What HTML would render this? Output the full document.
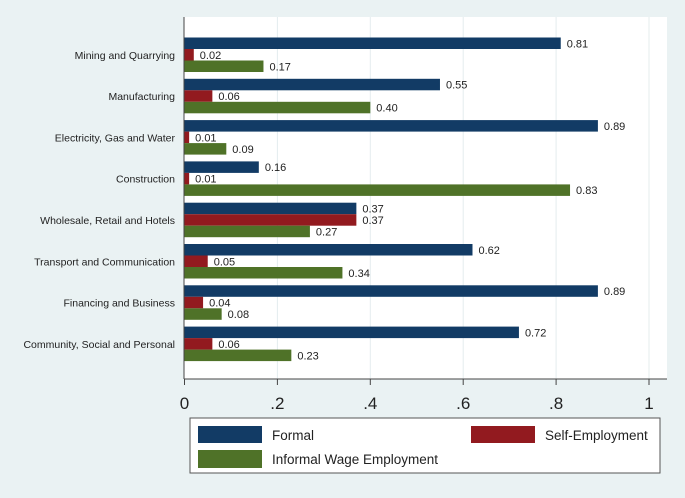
<!DOCTYPE html>
<html><head><meta charset="utf-8"><style>
body{margin:0;background:#eaf2f3;font-family:"Liberation Sans",Arial,sans-serif;}
svg{display:block}
</style></head><body>
<svg width="685" height="498">
<rect x="0" y="0" width="685" height="498" fill="#eaf2f3"/>
<rect x="184" y="17" width="483" height="362" fill="#ffffff"/>
<g id="grid"></g><g id="bars"></g><g id="axis"></g>
<g>
<rect x="190" y="418" width="470" height="55" fill="#fff" stroke="#555" stroke-width="1"/>
<rect x="198" y="426" width="64" height="17" fill="#123b65"/>
<text x="272" y="440" font-size="13.5" fill="#222">Formal</text>
<rect x="471" y="426" width="64" height="17" fill="#921a1f"/>
<text x="545" y="440" font-size="13.5" fill="#222">Self-Employment</text>
<rect x="198" y="450" width="64" height="18" fill="#4f7228"/>
<text x="272" y="464" font-size="13.5" fill="#222">Informal Wage Employment</text>
</g>
</svg>
<script>
const categories=["Mining and Quarrying","Manufacturing","Electricity, Gas and Water","Construction","Wholesale, Retail and Hotels","Transport and Communication","Financing and Business","Community, Social and Personal"];
const formal=[0.81,0.55,0.89,0.16,0.37,0.62,0.89,0.72];
const selfEmp=[0.02,0.06,0.01,0.01,0.37,0.05,0.04,0.06];
const informal=[0.17,0.40,0.09,0.83,0.27,0.34,0.08,0.23];
const ticks=[0,0.2,0.4,0.6,0.8,1];
const tickLabels=["0",".2",".4",".6",".8","1"];
const NS="http://www.w3.org/2000/svg";
const x0=184.5,xs=464.5,g0=37.5,gs=41.3,bh=11.5;
const X=v=>x0+v*xs;
function mk(t,a,p){const e=document.createElementNS(NS,t);for(const k in a)e.setAttribute(k,a[k]);p.appendChild(e);return e;}
const grid=document.getElementById('grid'),bars=document.getElementById('bars'),axis=document.getElementById('axis');
ticks.forEach((t,i)=>{
 if(t>0){const l=mk('line',{x1:X(t),x2:X(t),y1:17,y2:379,stroke:'#e4ecee','stroke-width':1},grid);
 
 }
 const tk=mk('line',{x1:X(t),x2:X(t),y1:379,y2:385,stroke:'#444','stroke-width':1},axis);
 
 
 const tx=mk('text',{x:X(t),y:409,'font-size':17,'text-anchor':'middle',fill:'#222'},axis);
 tx.textContent=tickLabels[i];
 
 
});
const ax=mk('line',{x1:184,x2:667,y1:379,y2:379,stroke:'#444','stroke-width':1},axis);


const ay=mk('line',{x1:184,x2:184,y1:17,y2:379,stroke:'#444','stroke-width':1},axis);


const series=[[formal,'#123b65','formal'],[selfEmp,'#921a1f','self-employment'],[informal,'#4f7228','informal-wage']];
categories.forEach((c,i)=>{
 const top=g0+gs*i;
 const lb=mk('text',{x:175,y:top+bh*1.5+4,'font-size':10.5,'text-anchor':'end',fill:'#222'},bars);
 lb.textContent=c;
 
 
 series.forEach((s,j)=>{
  const v=s[0][i],y=top+bh*j;
  const r=mk('rect',{x:x0,y:y,width:v*xs,height:bh,fill:s[1]},bars);
  
  
  const t=mk('text',{x:X(v)+6,y:y+bh/2+4,'font-size':11,fill:'#222'},bars);
  t.textContent=v.toFixed(2);
  
  
 });
});
</script>
</body></html>
